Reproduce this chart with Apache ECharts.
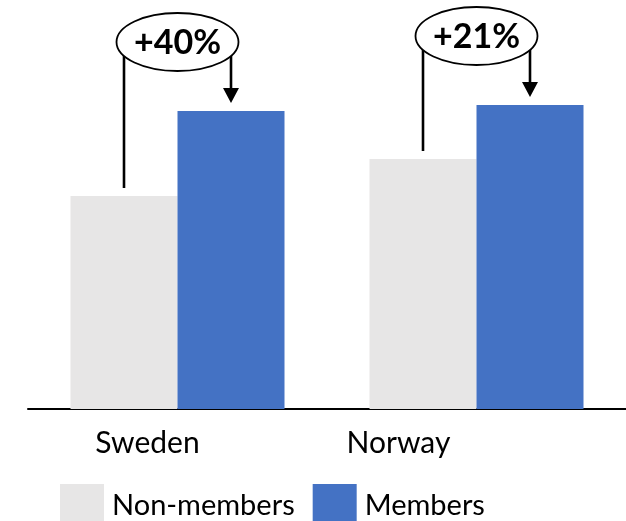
<!DOCTYPE html>
<html>
<head>
<meta charset="utf-8">
<script src="https://cdn.jsdelivr.net/npm/echarts@6/dist/echarts.min.js"></script>
<style>
  html, body { margin: 0; padding: 0; background: #fff; }
  #container { width: 626px; height: 521px; }
</style>
</head>
<body>
<div id="container"></div>
<script>
const countries = ['Sweden', 'Norway'];
const nonMembers = [213, 250];
const members = [298, 304];
const uplift = ['+40%', '+21%'];

const barW = 107;
const myChart = echarts.init(document.getElementById('container'));

// bracket + ellipse above each pair of bars
function renderBracket(params, api) {
    const i = api.value(0);
    const pNM = api.coord([i, api.value(1)]);
    const pM = api.coord([i, api.value(2)]);
    const cx = pNM[0];
    const xl = cx - barW / 2;
    const xr = cx + barW / 2;
    const yTopNM = pNM[1] - 8;
    const yTip = pM[1] - 8;
    const ey = pM[1] - 69;
    const line = { stroke: '#000', lineWidth: 2.6 };
    return {
        type: 'group',
        children: [
            { type: 'line', shape: { x1: xl, y1: yTopNM, x2: xl, y2: ey }, style: line },
            { type: 'line', shape: { x1: xr, y1: ey, x2: xr, y2: yTip - 14 }, style: line },
            { type: 'polygon', shape: { points: [[xr - 8, yTip - 15], [xr + 8, yTip - 15], [xr, yTip]] }, style: { fill: '#000' } },
            { type: 'ellipse', shape: { cx: cx, cy: ey, rx: 61, ry: 29 }, style: { fill: '#fff', stroke: '#000', lineWidth: 1.8 } },
            {
                type: 'text',
                x: cx, y: ey + 1,
                style: {
                    text: uplift[i],
                    fill: '#000',
                    font: 'bold 34px Lato',
                    align: 'center',
                    verticalAlign: 'middle'
                }
            }
        ]
    };
}

const option = {
    animation: false,
    grid: { left: 28, right: -4, top: 9, bottom: 112 },
    legend: {
        data: ['Non-members', 'Members'],
        left: 60,
        top: 484,
        padding: 0,
        icon: 'rect',
        itemWidth: 44,
        itemHeight: 44,
        itemGap: 18,
        textStyle: { fontFamily: 'Lato', fontSize: 29, color: '#000', padding: [0, 0, 0, 3] }
    },
    xAxis: {
        type: 'category',
        data: countries,
        axisLine: { lineStyle: { color: '#000', width: 2 } },
        axisTick: { show: false },
        axisLabel: {
            margin: 19,
            formatter: function (v) {
                return v === 'Sweden' ? '{a|' + v + '}' : '{b|' + v + '}';
            },
            rich: {
                a: { fontFamily: 'Lato', fontSize: 30, color: '#000', padding: [0, 60, 0, 0] },
                b: { fontFamily: 'Lato', fontSize: 30, color: '#000', padding: [0, 156, 0, 0] }
            }
        }
    },
    yAxis: {
        type: 'value',
        min: 0,
        max: 400,
        show: false,
        splitLine: { show: false }
    },
    series: [
        {
            name: 'Non-members',
            type: 'bar',
            data: nonMembers,
            barWidth: barW,
            barGap: '0%',
            itemStyle: { color: '#e7e6e6' }
        },
        {
            name: 'Members',
            type: 'bar',
            data: members,
            barWidth: barW,
            barGap: '0%',
            itemStyle: { color: '#4472c4' }
        },
        {
            type: 'custom',
            renderItem: renderBracket,
            data: countries.map((c, i) => [i, nonMembers[i], members[i]]),
            z: 5,
            silent: true
        }
    ]
};
myChart.setOption(option);
window.addEventListener('resize', () => {
    myChart.resize()
})
</script>
</body>
</html>
